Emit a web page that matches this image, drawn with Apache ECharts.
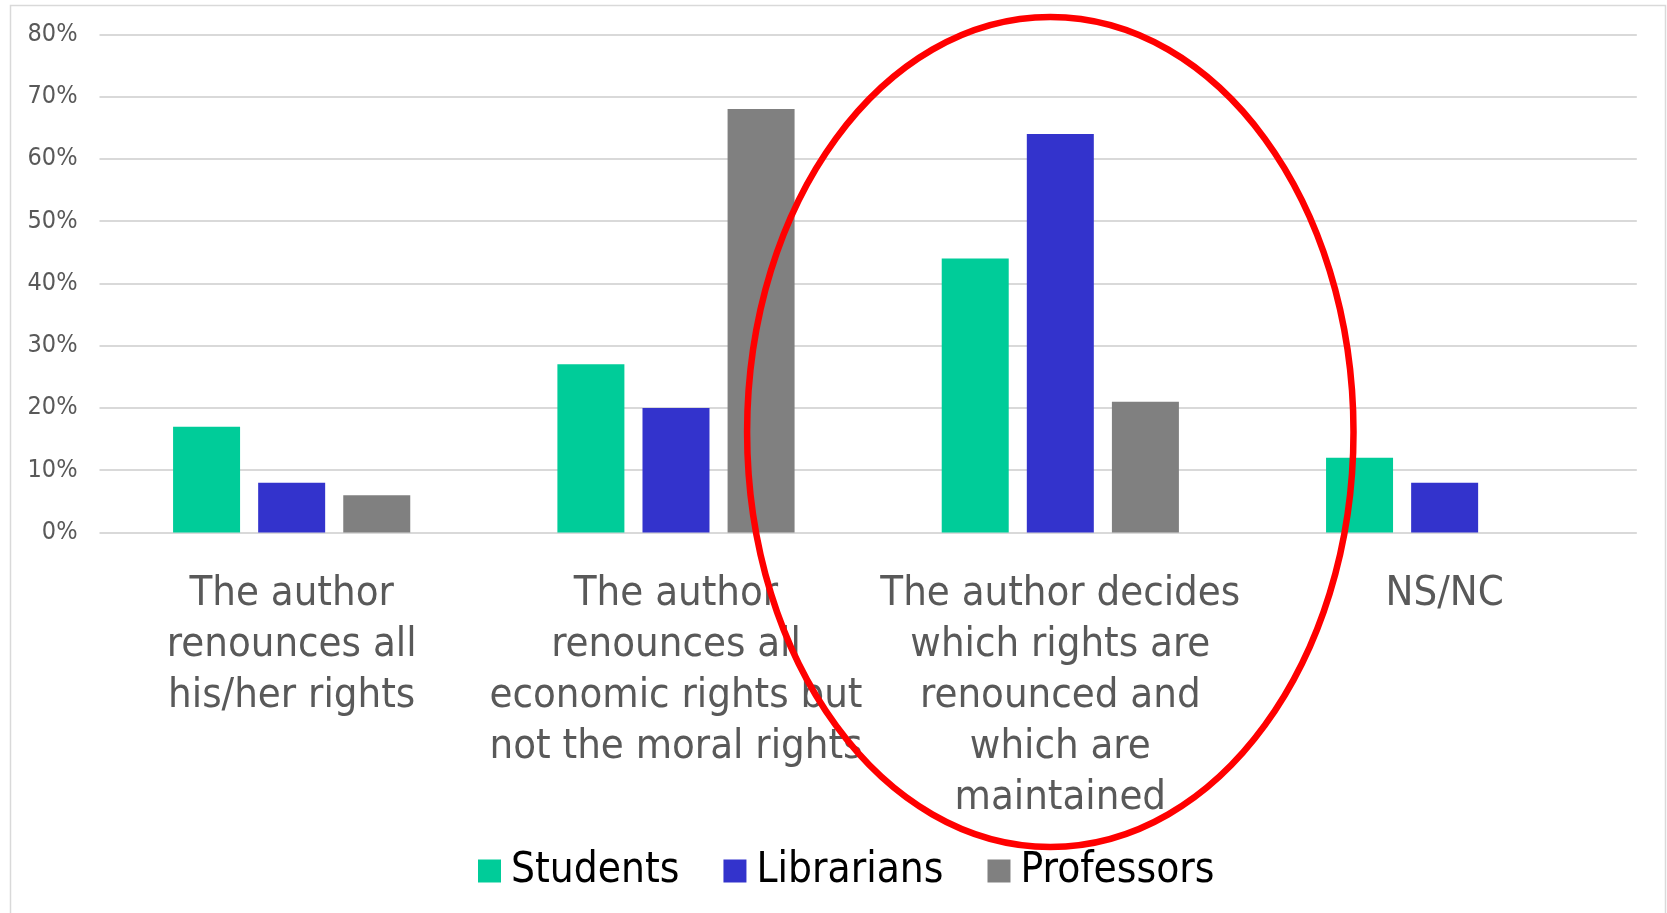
<!DOCTYPE html>
<html>
<head>
<meta charset="utf-8">
<title>Renunciation of author rights</title>
<script src="https://cdn.jsdelivr.net/npm/echarts@6/dist/echarts.min.js"></script>
<style>
  html, body { margin: 0; padding: 0; background: #ffffff; }
  #chart { width: 1667px; height: 913px; }
</style>
</head>
<body>
<div id="chart"></div>
<script>
// Answer options (x-axis categories), wrapped as they appear under each group
const categories = [
  'The author\nrenounces all\nhis/her rights',
  'The author\nrenounces all\neconomic rights but\nnot the moral rights',
  'The author decides\nwhich rights are\nrenounced and\nwhich are\nmaintained',
  'NS/NC'
];

// Share of respondents per group, in percent
const students   = [17, 27, 44, 12];
const librarians = [8, 20, 64, 8];
const professors = [6, 68, 21, 0];

// Value-axis ticks, in percent
const yTicks = [0, 10, 20, 30, 40, 50, 60, 70, 80];

const seriesNames = ['Students', 'Librarians', 'Professors'];
const seriesColors = ['#00CC99', '#3333CC', '#808080'];
const seriesValues = [students, librarians, professors];

const labelFont = '"DejaVu Sans Condensed", "DejaVu Sans", sans-serif';

const chart = echarts.init(document.getElementById('chart'), null, { renderer: 'canvas' });

const option = {
  backgroundColor: '#ffffff',
  animation: false,
  grid: {
    left: 99.5,
    right: 30.2,
    top: 34.3,
    bottom: 380.5,
    containLabel: false
  },
  legend: {
    data: seriesNames,
    left: 473,
    top: 845,
    icon: 'rect',
    itemWidth: 23,
    itemHeight: 23,
    itemGap: 44,
    textStyle: {
      color: '#000000',
      fontFamily: labelFont,
      fontSize: 42,
      padding: [0, 0, 0, 5]
    }
  },
  xAxis: {
    type: 'category',
    data: categories,
    axisLine: { show: false },
    axisTick: { show: false },
    axisLabel: {
      interval: 0,
      margin: 36,
      color: '#595959',
      fontFamily: labelFont,
      fontSize: 41.5,
      lineHeight: 51,
      align: 'center'
    },
    splitLine: { show: false }
  },
  yAxis: {
    type: 'value',
    min: yTicks[0],
    max: yTicks[yTicks.length - 1],
    interval: yTicks[1] - yTicks[0],
    axisLine: { show: false },
    axisTick: { show: false },
    axisLabel: {
      margin: 22,
      color: '#595959',
      fontFamily: labelFont,
      fontSize: 25,
      formatter: function (v) { return v + '%'; }
    },
    splitLine: {
      show: true,
      lineStyle: { color: '#d9d9d9', width: 2 }
    }
  },
  series: seriesNames.map(function (name, i) {
    return {
      name: name,
      type: 'bar',
      data: seriesValues[i],
      barWidth: 67,
      barGap: '27%',
      itemStyle: { color: seriesColors[i] },
      emphasis: { disabled: true }
    };
  }),
  graphic: [
    {
      // light frame around the chart area
      type: 'rect',
      z: 0,
      silent: true,
      shape: { x: 10.5, y: 5.5, width: 1655, height: 920 },
      style: { fill: 'none', stroke: '#d9d9d9', lineWidth: 1.5 }
    },
    {
      // red highlight ellipse around the "decides" group
      type: 'ellipse',
      z: 100,
      silent: true,
      shape: { cx: 1050.3, cy: 432, rx: 303.2, ry: 415 },
      style: { fill: 'none', stroke: '#ff0000', lineWidth: 6.5 }
    }
  ]
};

chart.setOption(option);
</script>
</body>
</html>
